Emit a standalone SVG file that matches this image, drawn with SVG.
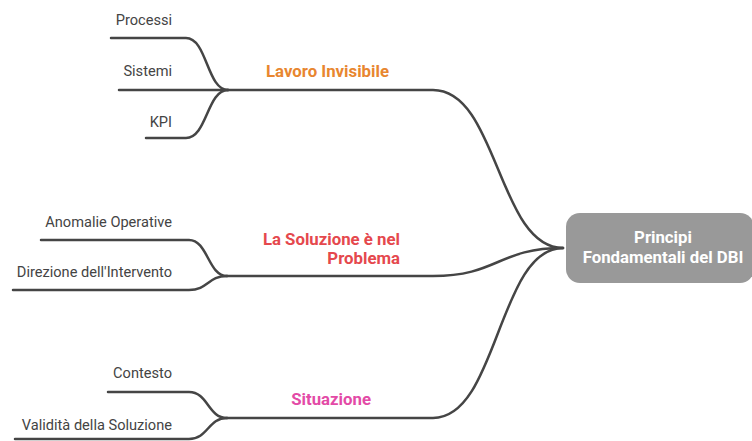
<svg xmlns="http://www.w3.org/2000/svg" width="752" height="441" viewBox="0 0 752 441">
  <style>
    .link { fill: none; stroke: #454545; stroke-width: 2.5; stroke-linecap: round; }
    .leaf { font-family: Roboto, "Liberation Sans", sans-serif; font-size: 14.6px; fill: #444444; text-anchor: end; }
    .branch { font-family: Roboto, "Liberation Sans", sans-serif; font-size: 16.8px; font-weight: 700; text-anchor: end; }
    .root-box { fill: #999999; }
    .root-text { font-family: Roboto, "Liberation Sans", sans-serif; font-size: 16.8px; font-weight: 700; fill: #ffffff; text-anchor: middle; }
  </style>
  <rect width="752" height="441" fill="#ffffff"/>

  <g id="connectors">
    <!-- root to branches -->
    <path class="link" d="M228,90 H433 C498,90 498,248 563,248"/>
    <path class="link" d="M227,276 H433 C498,276 498,248 563,248"/>
    <path class="link" d="M227,418 H433 C498,418 498,248 563,248"/>
    <!-- Lavoro Invisibile children -->
    <path class="link" d="M111,38 H186 C207,38 207,90 228,90"/>
    <path class="link" d="M119,90 H228"/>
    <path class="link" d="M146,138 H186 C207,138 207,90 228,90"/>
    <!-- La Soluzione è nel Problema children -->
    <path class="link" d="M41,240 H189 C208,240 208,276 227,276"/>
    <path class="link" d="M13,290 H189 C208,290 208,276 227,276"/>
    <!-- Situazione children -->
    <path class="link" d="M108,392 H189 C208,392 208,418 227,418"/>
    <path class="link" d="M15,439 H189 C208,439 208,418 227,418"/>
  </g>

  <g id="root">
    <rect class="root-box" x="566" y="213" width="188" height="70" rx="14"/>
    <text class="root-text" x="663" y="243">Principi</text>
    <text class="root-text" x="663" y="263">Fondamentali del DBI</text>
  </g>

  <g id="lavoro-invisibile">
    <text class="branch" x="389" y="77" fill="#e8862f">Lavoro Invisibile</text>
  </g>
  <g id="processi"><text class="leaf" x="172" y="25">Processi</text></g>
  <g id="sistemi"><text class="leaf" x="172" y="76">Sistemi</text></g>
  <g id="kpi"><text class="leaf" x="172" y="127">KPI</text></g>

  <g id="la-soluzione">
    <text class="branch" x="400" y="245" fill="#e5484d">La Soluzione è nel</text>
    <text class="branch" x="400" y="264" fill="#e5484d">Problema</text>
  </g>
  <g id="anomalie-operative"><text class="leaf" x="172" y="227">Anomalie Operative</text></g>
  <g id="direzione-intervento"><text class="leaf" x="172" y="277">Direzione dell'Intervento</text></g>

  <g id="situazione">
    <text class="branch" x="371" y="405" fill="#e34aa6">Situazione</text>
  </g>
  <g id="contesto"><text class="leaf" x="172" y="378">Contesto</text></g>
  <g id="validita-soluzione"><text class="leaf" x="172" y="430">Validità della Soluzione</text></g>
</svg>
